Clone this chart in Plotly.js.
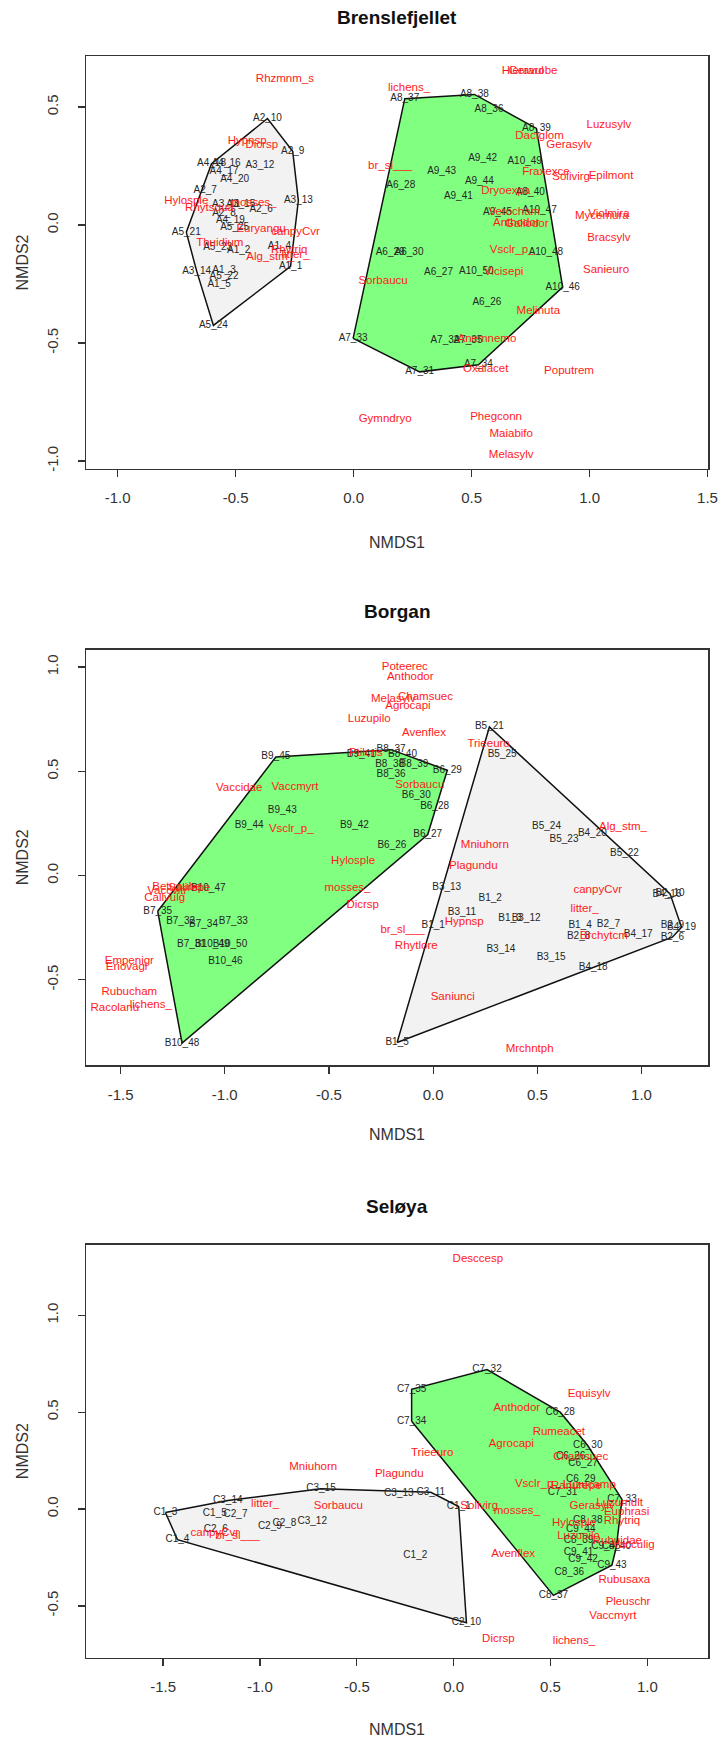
<!DOCTYPE html>
<html>
<head>
<meta charset="utf-8">
<script src="https://cdn.plot.ly/plotly-3.0.1.min.js"></script>
<style>
  html, body { margin: 0; padding: 0; background: #ffffff; }
  #chart { width: 718px; height: 1738px; }
</style>
</head>
<body>
<div id="chart"></div>
<script>
// ---------------- Brenslefjellet ----------------
const brenSiteNames = ["A1_1","A1_2","A1_3","A1_4","A1_5","A2_6","A2_7","A2_8","A2_9","A2_10",
  "A3_11","A3_12","A3_13","A3_14","A3_15","A4_16","A4_17","A4_18","A4_19","A4_20",
  "A5_21","A5_22","A5_23","A5_24","A5_25","A6_26","A6_27","A6_28","A6_29","A6_30",
  "A7_31","A7_32","A7_33","A7_34","A7_35","A8_36","A8_37","A8_38","A8_39","A8_40",
  "A9_41","A9_42","A9_43","A9_44","A9_45","A10_46","A10_47","A10_48","A10_49","A10_50"];
const brenSiteX = [-0.267,-0.487,-0.549,-0.314,-0.570,-0.392,-0.629,-0.549,-0.258,-0.365,
  -0.540,-0.397,-0.234,-0.665,-0.478,-0.540,-0.549,-0.602,-0.522,-0.504,
  -0.709,-0.549,-0.576,-0.594,-0.504,0.565,0.360,0.200,0.155,0.235,
  0.280,0.387,-0.002,0.529,0.485,0.574,0.217,0.512,0.775,0.749,
  0.444,0.547,0.373,0.533,0.610,0.886,0.788,0.815,0.725,0.520];
const brenSiteY = [-0.175,-0.107,-0.192,-0.092,-0.253,0.068,0.146,0.050,0.313,0.452,
  0.088,0.254,0.104,-0.195,0.088,0.260,0.227,0.260,0.021,0.192,
  -0.030,-0.216,-0.097,-0.425,-0.010,-0.327,-0.203,0.166,-0.116,-0.116,
  -0.622,-0.490,-0.480,-0.592,-0.490,0.490,0.536,0.554,0.410,0.138,
  0.121,0.281,0.227,0.185,0.053,-0.263,0.061,-0.116,0.270,-0.195];
const brenSpeciesNames = ["Rhzmnm_s","Hypnsp","Dicrsp","Hylosple","Rhytsqua","mosses_","Euryangu","canpyCvr",
  "Thuidium","Rhytriq","litter_","Alg_stm_","Hieravul","Gerarobe","lichens_","Luzusylv","Dactglom",
  "Gerasylv","br_sl___","Fraxexce","Solivirg","Epilmont","Dryoexpa","Verocham","Anthodor","Galiodor",
  "Mycemura","Violmira","Bracsylv","Vsclr_p_","Sanieuro","Vicisepi","Sorbaucu","Melinuta","Anemnemo",
  "Oxalacet","Poputrem","Gymndryo","Phegconn","Maiabifo","Melasylv"];
const brenSpeciesX = [-0.291,-0.451,-0.389,-0.709,-0.611,-0.424,-0.392,-0.246,
  -0.567,-0.273,-0.246,-0.353,0.717,0.761,0.235,1.082,0.788,
  0.913,0.155,0.815,0.922,1.091,0.645,0.681,0.690,0.734,
  1.052,1.082,1.082,0.672,1.070,0.636,0.125,0.783,0.565,
  0.560,0.913,0.134,0.604,0.668,0.668];
const brenSpeciesY = [0.618,0.355,0.341,0.101,0.071,0.095,-0.017,-0.031,
  -0.078,-0.104,-0.128,-0.135,0.651,0.651,0.582,0.423,0.379,
  0.337,0.251,0.224,0.203,0.209,0.145,0.057,0.010,0.004,
  0.036,0.047,-0.054,-0.104,-0.189,-0.199,-0.239,-0.366,-0.483,
  -0.611,-0.621,-0.821,-0.814,-0.884,-0.977];
const brenXTicks = [-1.0,-0.5,0.0,0.5,1.0,1.5];
const brenYTicks = [-1.0,-0.5,0.0,0.5];

// ---------------- Borgan ----------------
const borgSiteNames = ["B1_1","B1_2","B1_3","B1_4","B1_5","B2_6","B2_7","B2_8","B2_9","B2_10",
  "B3_11","B3_12","B3_13","B3_14","B3_15","B4_16","B4_17","B4_18","B4_19","B4_20",
  "B5_21","B5_22","B5_23","B5_24","B5_25","B6_26","B6_27","B6_28","B6_29","B6_30",
  "B7_31","B7_32","B7_33","B7_34","B7_35","B8_36","B8_37","B8_38","B8_39","B8_40",
  "B9_41","B9_42","B9_43","B9_44","B9_45","B10_46","B10_47","B10_48","B10_49","B10_50"];
const borgSiteX = [0.000,0.274,0.369,0.705,-0.173,1.148,0.841,0.698,1.148,1.137,
  0.138,0.446,0.065,0.325,0.566,1.122,0.984,0.768,1.192,0.764,
  0.270,0.918,0.628,0.544,0.331,-0.198,-0.026,0.007,0.068,-0.081,
  -1.160,-1.212,-0.959,-1.102,-1.322,-0.202,-0.202,-0.209,-0.092,-0.147,
  -0.345,-0.378,-0.724,-0.883,-0.755,-0.997,-1.079,-1.205,-1.060,-0.975];
const borgSiteY = [-0.240,-0.112,-0.208,-0.240,-0.801,-0.296,-0.237,-0.292,-0.240,-0.088,
  -0.176,-0.208,-0.056,-0.356,-0.393,-0.091,-0.285,-0.441,-0.248,0.200,
  0.713,0.105,0.171,0.236,0.582,0.144,0.197,0.332,0.505,0.385,
  -0.329,-0.221,-0.221,-0.237,-0.171,0.486,0.604,0.534,0.534,0.579,
  0.580,0.240,0.313,0.239,0.569,-0.413,-0.064,-0.804,-0.329,-0.329];
const borgSpeciesNames = ["Poteerec","Anthodor","Melasylv","Chamsuec","Agrocapi","Luzupilo","Avenflex",
  "Trieeuro","Ptilcris","Sorbaucu","Vaccidae","Vaccmyrt","Vsclr_p_","Alg_stm_","Mniuhorn","Hylosple",
  "Plagundu","mosses_","canpyCvr","Dicrsp","litter_","Hypnsp","br_sl___","Brchytcm","Rhytlore",
  "Saniunci","Mrchntph","Vaccviti","Callvulg","Betupube","Salirepe","Empenigr","Eriovagi","Rubucham",
  "Racolanu","lichens_"];
const borgSpeciesX = [-0.136,-0.110,-0.191,-0.037,-0.121,-0.307,-0.044,
  0.266,-0.323,-0.064,-0.931,-0.663,-0.681,0.911,0.248,-0.384,
  0.193,-0.411,0.790,-0.338,0.727,0.149,-0.147,0.819,-0.081,
  0.094,0.463,-1.279,-1.288,-1.230,-1.170,-1.458,-1.471,-1.458,
  -1.528,-1.355];
const borgSpeciesY = [1.002,0.954,0.845,0.854,0.813,0.750,0.681,
  0.630,0.585,0.436,0.417,0.425,0.224,0.232,0.144,0.069,
  0.045,-0.061,-0.072,-0.144,-0.160,-0.224,-0.264,-0.292,-0.337,
  -0.585,-0.833,-0.075,-0.108,-0.056,-0.060,-0.413,-0.438,-0.561,
  -0.638,-0.622];
const borgXTicks = [-1.5,-1.0,-0.5,0.0,0.5,1.0];
const borgYTicks = [-0.5,0.0,0.5,1.0];

// ---------------- Seløya ----------------
const seloSiteNames = ["C1_1","C1_2","C1_3","C1_4","C1_5","C2_6","C2_7","C2_8","C2_9","C2_10",
  "C3_11","C3_12","C3_13","C3_14","C3_15","C6_26","C6_27","C6_28","C6_29","C6_30",
  "C7_31","C7_32","C7_33","C7_34","C7_35","C8_36","C8_37","C8_38","C8_39","C8_40",
  "C9_41","C9_42","C9_43","C9_44","C9_45"];
const seloSiteX = [0.026,-0.198,-1.488,-1.426,-1.233,-1.228,-1.126,-0.874,-0.949,0.066,
  -0.118,-0.730,-0.283,-1.166,-0.685,0.604,0.668,0.550,0.656,0.692,
  0.562,0.172,0.869,-0.217,-0.217,0.597,0.515,0.692,0.645,0.840,
  0.645,0.668,0.817,0.656,0.786];
const seloSiteY = [0.013,-0.240,-0.018,-0.158,-0.024,-0.106,-0.029,-0.075,-0.092,-0.587,
  0.086,-0.064,0.081,0.044,0.105,0.273,0.233,0.500,0.150,0.328,
  0.086,0.720,0.050,0.453,0.618,-0.327,-0.446,-0.057,-0.161,-0.195,
  -0.222,-0.259,-0.290,-0.106,-0.193];
const seloSpeciesNames = ["Desccesp","Equisylv","Anthodor","Rumeacet","Agrocapi","Chamsuec","Trieeuro",
  "Mniuhorn","Plagundu","Vsclr_p_","Ranurepe","Luzucamp","Solivirg","mosses_","Gerasylv","Luzumult",
  "Euphrasi","Rhytriq","Hylosple","Luzupilo","Rubuidae","Vacculig","Avenflex","Rubusaxa","Pleuschr",
  "Vaccmyrt","Dicrsp","lichens_","litter_","Sorbaucu","canpyCvr","br_sl___"];
const seloSpeciesX = [0.125,0.699,0.326,0.543,0.298,0.656,-0.111,
  -0.725,-0.281,0.432,0.633,0.700,0.132,0.326,0.715,0.857,
  0.893,0.869,0.621,0.645,0.845,0.928,0.307,0.881,0.900,
  0.822,0.231,0.621,-0.973,-0.595,-1.233,-1.115];
const seloSpeciesY = [1.288,0.594,0.523,0.398,0.334,0.270,0.288,
  0.218,0.182,0.127,0.119,0.122,0.013,-0.009,0.013,0.031,
  -0.015,-0.061,-0.075,-0.139,-0.167,-0.189,-0.235,-0.369,-0.483,
  -0.552,-0.670,-0.684,0.026,0.013,-0.125,-0.138];
const seloXTicks = [-1.5,-1.0,-0.5,0.0,0.5,1.0];
const seloYTicks = [-0.5,0.0,0.5,1.0];

const panelTitles = ["Brenslefjellet", "Borgan", "Seløya"];

// ---------------- page geometry (pixels) ----------------
const PAGE_W = 718, PAGE_H = 1738;
const BOX_LEFT = 86, BOX_RIGHT = 708;
const boxTopBottom = [[56.4, 468.6], [649.6, 1065], [1244.7, 1657.6]];
const xRanges = [[-1.134, 1.502], [-1.666, 1.319], [-1.898, 1.313]];
const yRanges = [[-1.032, 0.715], [-0.909, 1.084], [-0.767, 1.3645]];
const titleY = [18, 611.7, 1206.8];
const xLabelY = [542, 1134, 1729];
const yLabelX = 22;

const FONT = "Liberation Sans, Arial, Helvetica, sans-serif";
const GREY_FILL = "rgb(242,242,242)";
const GREEN_FILL = "rgb(128,255,128)";

// monotone-chain convex hull, returns closed outline
function convexHull(xs, ys) {
  const pts = xs.map((x, i) => [x, ys[i]]).sort((a, b) => a[0] - b[0] || a[1] - b[1]);
  const cross = (o, a, b) => (a[0] - o[0]) * (b[1] - o[1]) - (a[1] - o[1]) * (b[0] - o[0]);
  const lower = [], upper = [];
  for (const p of pts) {
    while (lower.length >= 2 && cross(lower[lower.length - 2], lower[lower.length - 1], p) <= 0) lower.pop();
    lower.push(p);
  }
  for (let i = pts.length - 1; i >= 0; i--) {
    const p = pts[i];
    while (upper.length >= 2 && cross(upper[upper.length - 2], upper[upper.length - 1], p) <= 0) upper.pop();
    upper.push(p);
  }
  upper.pop(); lower.pop();
  const h = lower.concat(upper);
  h.push(h[0]);
  return { x: h.map(p => p[0]), y: h.map(p => p[1]) };
}

// plots 1-5 form the first management group, the rest the second
function plotNumber(name) { return parseInt(name.split("_")[0].slice(1), 10); }

const px2x = px => px / PAGE_W;
const px2y = py => 1 - py / PAGE_H;

const traces = [];
const layout = {
  width: PAGE_W, height: PAGE_H,
  margin: { l: 0, r: 0, t: 0, b: 0 },
  paper_bgcolor: "#ffffff", plot_bgcolor: "#ffffff",
  showlegend: false,
  font: { family: FONT, color: "#222" },
  annotations: []
};

const panels = [
  [brenSiteNames, brenSiteX, brenSiteY, brenSpeciesNames, brenSpeciesX, brenSpeciesY, brenXTicks, brenYTicks],
  [borgSiteNames, borgSiteX, borgSiteY, borgSpeciesNames, borgSpeciesX, borgSpeciesY, borgXTicks, borgYTicks],
  [seloSiteNames, seloSiteX, seloSiteY, seloSpeciesNames, seloSpeciesX, seloSpeciesY, seloXTicks, seloYTicks]
];

panels.forEach((p, k) => {
  const [sNames, sX, sY, spNames, spX, spY, xt, yt] = p;
  const n = k + 1;
  const xa = n === 1 ? "x" : "x" + n;
  const ya = n === 1 ? "y" : "y" + n;

  // hulls of the two site groups
  [[true, GREY_FILL], [false, GREEN_FILL]].forEach(([first, fill]) => {
    const gx = [], gy = [];
    sNames.forEach((nm, i) => {
      if ((plotNumber(nm) <= 5) === first) { gx.push(sX[i]); gy.push(sY[i]); }
    });
    const h = convexHull(gx, gy);
    traces.push({
      type: "scatter", mode: "lines", x: h.x, y: h.y, xaxis: xa, yaxis: ya,
      fill: "toself", fillcolor: fill,
      line: { color: "#111", width: 1.5 }, hoverinfo: "skip"
    });
  });

  traces.push({
    type: "scatter", mode: "text", x: sX, y: sY, text: sNames, xaxis: xa, yaxis: ya,
    textposition: "middle center",
    textfont: { family: FONT, size: 10, color: "#262626" }, hoverinfo: "skip"
  });
  traces.push({
    type: "scatter", mode: "text", x: spX, y: spY, text: spNames, xaxis: xa, yaxis: ya,
    textposition: "middle center",
    textfont: { family: FONT, size: 11.5, color: "#ff1a1a" }, hoverinfo: "skip"
  });

  const [top, bottom] = boxTopBottom[k];
  const common = {
    showline: true, mirror: true, linecolor: "#333", linewidth: 1.5,
    ticks: "outside", ticklen: 7, tickwidth: 1.3, tickcolor: "#333",
    showgrid: false, zeroline: false, fixedrange: true,
    tickfont: { family: FONT, size: 15, color: "#333" }
  };
  layout[n === 1 ? "xaxis" : "xaxis" + n] = Object.assign({}, common, {
    domain: [px2x(BOX_LEFT), px2x(BOX_RIGHT)], range: xRanges[k], anchor: ya,
    tickvals: xt, ticktext: xt.map(v => v.toFixed(1)), ticklabelstandoff: 8
  });
  layout[n === 1 ? "yaxis" : "yaxis" + n] = Object.assign({}, common, {
    domain: [px2y(bottom), px2y(top)], range: yRanges[k], anchor: xa,
    tickvals: yt, ticktext: yt.map(v => v.toFixed(1)), tickangle: -90, ticklabelstandoff: 14
  });

  layout.annotations.push({
    xref: "paper", yref: "paper", x: px2x((BOX_LEFT + BOX_RIGHT) / 2), y: px2y(titleY[k]),
    text: "<b>" + panelTitles[k] + "</b>", showarrow: false,
    xanchor: "center", yanchor: "middle", font: { family: FONT, size: 19, color: "#111" }
  });
  layout.annotations.push({
    xref: "paper", yref: "paper", x: px2x((BOX_LEFT + BOX_RIGHT) / 2), y: px2y(xLabelY[k]),
    text: "NMDS1", showarrow: false,
    xanchor: "center", yanchor: "middle", font: { family: FONT, size: 16, color: "#333" }
  });
  layout.annotations.push({
    xref: "paper", yref: "paper", x: px2x(yLabelX), y: px2y((top + bottom) / 2),
    text: "NMDS2", showarrow: false, textangle: -90,
    xanchor: "center", yanchor: "middle", font: { family: FONT, size: 16, color: "#333" }
  });
});

Plotly.newPlot("chart", traces, layout, { staticPlot: true, displayModeBar: false });
</script>
</body>
</html>
